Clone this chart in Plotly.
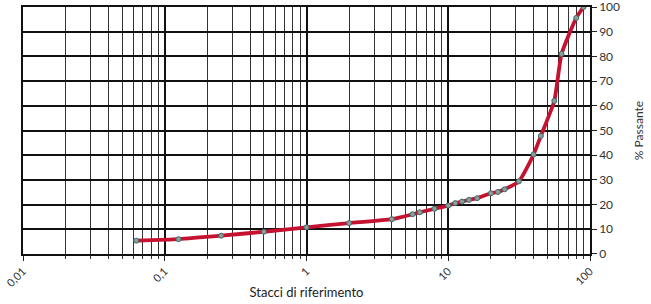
import plotly.graph_objects as go

sieves = [0.063, 0.125, 0.25, 0.5, 1, 2, 4, 5.6, 6.3, 8, 10, 11.2, 12.5, 14, 16,
          20, 22.4, 25, 31.5, 40, 45, 56, 63, 80, 90]
passing = [5.4, 6.0, 7.4, 9.0, 10.8, 12.5, 14.1, 16.1, 16.9, 18.3, 19.6, 20.6, 21.2,
           21.9, 22.6, 24.6, 25.1, 26.2, 29.4, 40.3, 47.8, 62.0, 81.0, 95.6, 100]

x_tickvals = [0.01, 0.1, 1, 10, 100]
x_ticktext = ["0,01", "0,1", "1", "10", "100"]
y_tickvals = [0, 10, 20, 30, 40, 50, 60, 70, 80, 90, 100]

minor_vals = [k * 10 ** d for d in (-2, -1, 0, 1) for k in range(2, 10)]

FONT = "Lato, Open Sans, sans-serif"

fig = go.Figure()
fig.add_trace(go.Scatter(
    x=sieves, y=passing, mode="lines+markers",
    line=dict(color="#c41230", width=3.8, shape="spline", smoothing=0.5),
    marker=dict(symbol="circle", size=5, color="#8f9e9c",
                line=dict(color="#3d6b68", width=1)),
    showlegend=False,
))

fig.update_layout(
    width=651, height=304,
    margin=dict(l=23, r=61, t=7, b=50),
    paper_bgcolor="white", plot_bgcolor="white",
    font=dict(family=FONT, size=11, color="#333"),
    xaxis=dict(
        type="log", range=[-2, 2], automargin=False,
        tickvals=x_tickvals, ticktext=x_ticktext, tickangle=-45,
        ticks="outside", ticklen=5, tickcolor="#222",
        showgrid=True, gridcolor="#111", gridwidth=1.5,
        minor=dict(tickvals=minor_vals, showgrid=True, gridcolor="#333",
                   gridwidth=1, ticks="outside", ticklen=3, tickcolor="#333"),
        showline=True, linecolor="#111", linewidth=1.5, mirror=True,
        zeroline=False,
        title=dict(text="Stacci di riferimento", font=dict(size=13, color="#222"),
                   standoff=0),
        tickfont=dict(size=11, color="#333"),
    ),
    yaxis=dict(
        range=[-0.01, 100.01], side="right", automargin=False,
        tickvals=y_tickvals, ticklabeloverflow="allow",
        ticks="outside", ticklen=5, tickcolor="#222",
        showgrid=True, gridcolor="#111", gridwidth=1.5,
        showline=True, linecolor="#111", linewidth=1.5, mirror=True,
        zeroline=False,
        title=dict(text="% Passante", font=dict(size=12, color="#333"),
                   standoff=16),
        tickfont=dict(size=12, color="#333"),
    ),
)

fig.write_html("out.html", config={"displayModeBar": False},
               post_script="document.body.style.margin='0px';")
